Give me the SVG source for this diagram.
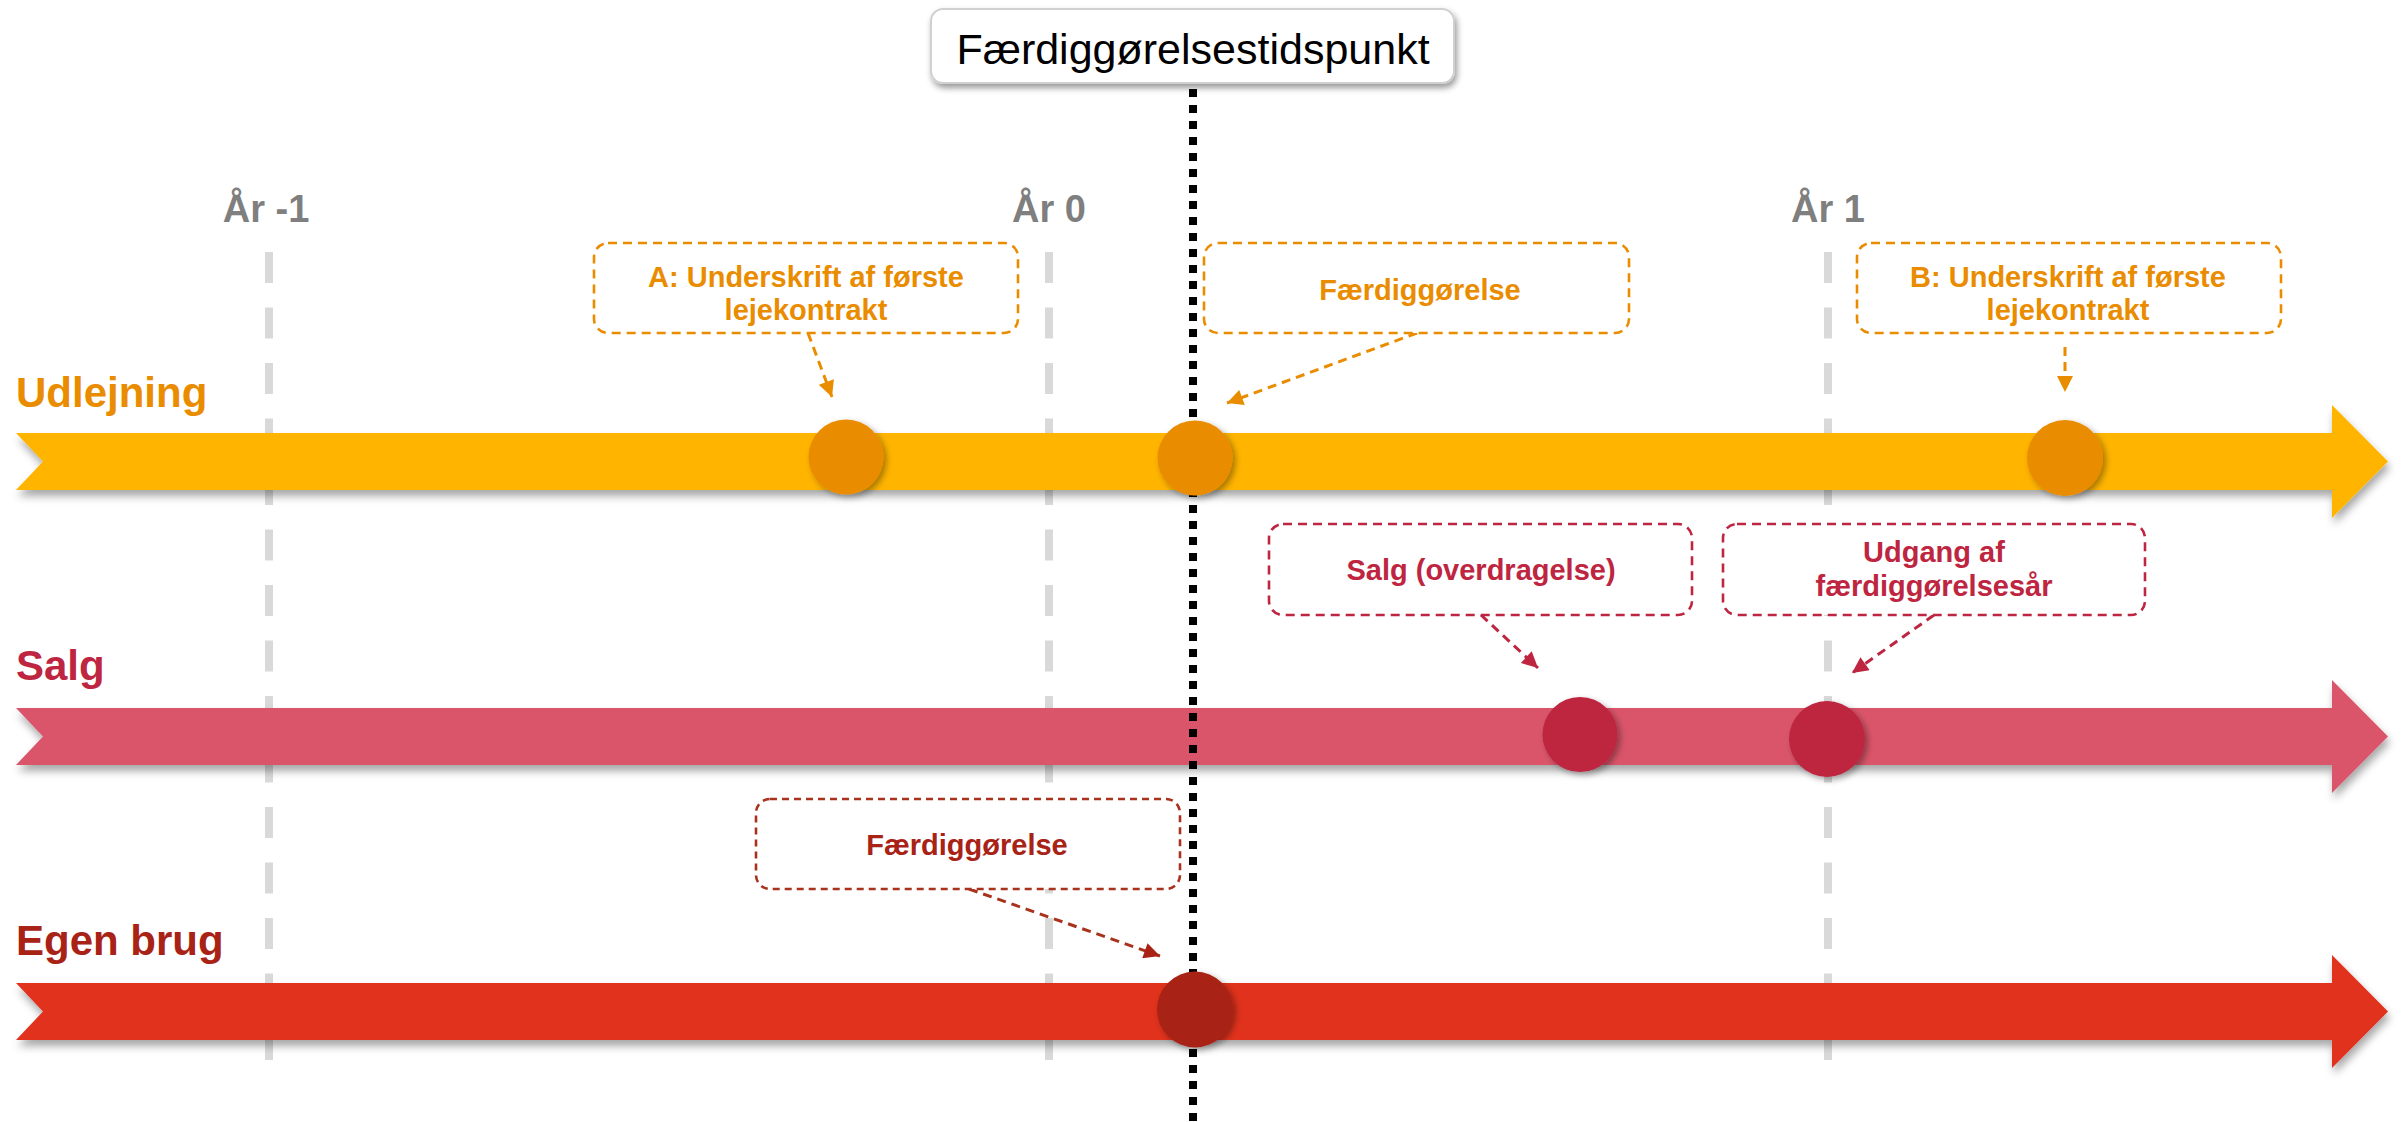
<svg xmlns="http://www.w3.org/2000/svg" width="2405" height="1122" viewBox="0 0 2405 1122">
<defs>
<style>
text{font-family:"Liberation Sans",Arial,sans-serif;font-weight:bold}
.yr{font-size:38px;fill:#7f7f7f;text-anchor:middle}
.lane{font-size:42px}
.cl{font-size:29px;text-anchor:middle}
.grid{stroke:#d9d9d9;stroke-width:8;stroke-dasharray:31 24.5;fill:none}
.box{fill:#fff;stroke-width:2.6;stroke-dasharray:9 6}
.conn{fill:none;stroke-width:3;stroke-dasharray:9 6}
.o{fill:#ea8c00}.os{stroke:#ea8c00}
.r{fill:#be2541}.rs{stroke:#be2541}
.d{fill:#a82216}.ds{stroke:#a8321c}
</style>
<filter id="sh" x="-5%" y="-30%" width="110%" height="180%">
<feDropShadow dx="2" dy="6" stdDeviation="4" flood-color="#000" flood-opacity="0.35"/>
</filter>
<filter id="csh" x="-40%" y="-40%" width="180%" height="180%">
<feDropShadow dx="3" dy="3" stdDeviation="3" flood-color="#000" flood-opacity="0.35"/>
</filter>
<filter id="tsh" x="-10%" y="-30%" width="120%" height="170%">
<feDropShadow dx="2" dy="4" stdDeviation="3" flood-color="#000" flood-opacity="0.4"/>
</filter>
<marker id="ao" viewBox="0 0 10 10" refX="10" refY="5" markerWidth="18" markerHeight="16" markerUnits="userSpaceOnUse" orient="auto"><path d="M0,0L10,5L0,10Z" fill="#ea8c00"/></marker>
<marker id="ar" viewBox="0 0 10 10" refX="10" refY="5" markerWidth="18" markerHeight="16" markerUnits="userSpaceOnUse" orient="auto"><path d="M0,0L10,5L0,10Z" fill="#be2541"/></marker>
<marker id="ad" viewBox="0 0 10 10" refX="10" refY="5" markerWidth="18" markerHeight="16" markerUnits="userSpaceOnUse" orient="auto"><path d="M0,0L10,5L0,10Z" fill="#a82216"/></marker>
</defs>
<rect width="2405" height="1122" fill="#fff"/>

<g id="grid">
<line class="grid" x1="269" y1="252" x2="269" y2="1066"/>
<line class="grid" x1="1049" y1="252" x2="1049" y2="1066"/>
<line class="grid" x1="1828" y1="252" x2="1828" y2="1066"/>
</g>

<g id="years">
<text class="yr" x="266" y="222">År -1</text>
<text class="yr" x="1049" y="222">År 0</text>
<text class="yr" x="1828" y="222">År 1</text>
</g>

<g id="lane-udlejning">
<path filter="url(#sh)" fill="#ffb400" d="M16,433L2332,433L2332,405L2388,461.5L2332,518L2332,490L16,490L43,461.5Z"/>
<text class="lane o" x="16" y="407">Udlejning</text>
</g>
<g id="lane-salg">
<path filter="url(#sh)" fill="#da546b" d="M16,708L2332,708L2332,680L2388,736.5L2332,793L2332,765L16,765L43,736.5Z"/>
<text class="lane r" x="16" y="680">Salg</text>
</g>
<g id="lane-egenbrug">
<path filter="url(#sh)" fill="#e0311f" d="M16,983L2332,983L2332,955L2388,1011.5L2332,1068L2332,1040L16,1040L43,1011.5Z"/>
<text class="lane d" x="16" y="955">Egen brug</text>
</g>

<g id="completion-line">
<line x1="1193" y1="89" x2="1193" y2="1122" stroke="#000" stroke-width="8" stroke-dasharray="8 8"/>
</g>

<g id="title">
<rect x="931" y="9" width="523" height="74" rx="12" fill="#fff" stroke="#d0d0d0" stroke-width="2" filter="url(#tsh)"/>
<text x="1193" y="64" font-size="43" font-weight="normal" text-anchor="middle" fill="#000" style="font-weight:normal">Færdiggørelsestidspunkt</text>
</g>

<g id="connectors">
<line class="conn os" x1="808" y1="333" x2="832" y2="397" marker-end="url(#ao)"/>
<line class="conn os" x1="1417" y1="333" x2="1227" y2="403" marker-end="url(#ao)"/>
<line class="conn os" x1="2065" y1="347" x2="2065" y2="392" marker-end="url(#ao)"/>
<line class="conn rs" x1="1481" y1="615" x2="1538" y2="668" marker-end="url(#ar)"/>
<line class="conn rs" x1="1934" y1="615" x2="1852" y2="673" marker-end="url(#ar)"/>
<line class="conn ds" x1="969" y1="889" x2="1160" y2="956" marker-end="url(#ad)"/>
</g>

<g id="ev-a">
<rect class="box os" x="594" y="243" width="424" height="90" rx="14"/>
<text class="cl o" x="806" y="287">A: Underskrift af første</text>
<text class="cl o" x="806" y="320">lejekontrakt</text>
<circle class="o" cx="846" cy="457" r="37.5" filter="url(#csh)"/>
</g>
<g id="ev-faerdig-udl">
<rect class="box os" x="1204" y="243" width="425" height="90" rx="14"/>
<text class="cl o" x="1420" y="300">Færdiggørelse</text>
<circle class="o" cx="1195" cy="458" r="37.5" filter="url(#csh)"/>
</g>
<g id="ev-b">
<rect class="box os" x="1857" y="243" width="424" height="90" rx="14"/>
<text class="cl o" x="2068" y="287">B: Underskrift af første</text>
<text class="cl o" x="2068" y="320">lejekontrakt</text>
<circle class="o" cx="2065" cy="458" r="38" filter="url(#csh)"/>
</g>
<g id="ev-salg">
<rect class="box rs" x="1269" y="524" width="423" height="91" rx="14"/>
<text class="cl r" x="1481" y="580">Salg (overdragelse)</text>
<circle class="r" cx="1580" cy="734.5" r="37.5" filter="url(#csh)"/>
</g>
<g id="ev-udgang">
<rect class="box rs" x="1723" y="524" width="422" height="91" rx="14"/>
<text class="cl r" x="1934" y="562">Udgang af</text>
<text class="cl r" x="1934" y="596">færdiggørelsesår</text>
<circle class="r" cx="1827" cy="739" r="38" filter="url(#csh)"/>
</g>
<g id="ev-faerdig-egen">
<rect class="box ds" x="756" y="799" width="424" height="90" rx="14" style="stroke-dasharray:7 5"/>
<text class="cl d" x="967" y="855">Færdiggørelse</text>
<circle class="d" cx="1195" cy="1009.5" r="38" filter="url(#csh)"/>
</g>
</svg>
